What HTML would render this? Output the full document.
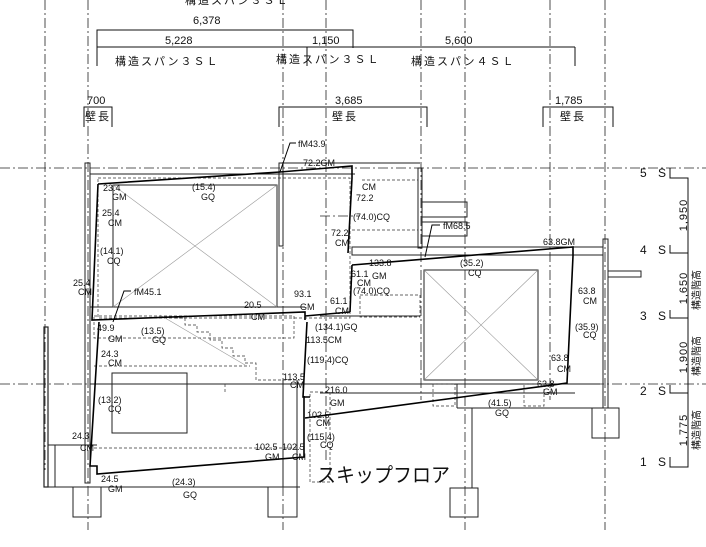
<!DOCTYPE html>
<html><head><meta charset="utf-8"><style>
html,body{margin:0;padding:0;background:#fff;}
svg{display:block;}
text{font-family:"Liberation Sans","Noto Sans CJK JP",sans-serif;fill:#111;}
.s{font-size:9px;}
.m{font-size:11px;letter-spacing:2px;}
.lv{font-size:12px;letter-spacing:4px;}
</style></head><body>
<svg width="706" height="547" viewBox="0 0 706 547" xmlns="http://www.w3.org/2000/svg">
<g stroke="#222" stroke-width="0.8" stroke-dasharray="10,3,2,3" fill="none">
<line x1="45" y1="0" x2="45" y2="470"/>
<line x1="88" y1="0" x2="88" y2="530"/>
<line x1="283" y1="0" x2="283" y2="530"/>
<line x1="326" y1="0" x2="326" y2="460"/>
<line x1="421" y1="0" x2="421" y2="400"/>
<line x1="465" y1="0" x2="465" y2="530"/>
<line x1="550" y1="0" x2="550" y2="400"/>
<line x1="605" y1="0" x2="605" y2="530"/>
<line x1="0" y1="168" x2="706" y2="168"/>
<line x1="0" y1="384" x2="706" y2="384"/>
<line x1="320" y1="216" x2="360" y2="216"/>
</g>
<text x="185" y="4" class="m">構造スパン３ＳＬ</text>
<g stroke="#111" stroke-width="1" fill="none">
<polyline points="97,48 97,30 353,30 353,48"/>
<line x1="97" y1="47" x2="575" y2="47"/>
<line x1="97" y1="47" x2="97" y2="66"/>
<line x1="307" y1="47" x2="307" y2="66"/>
<line x1="575" y1="47" x2="575" y2="66"/>
<polyline points="84,127 84,107 112,107 112,127"/>
<polyline points="279,127 279,107 427,107 427,127"/>
<polyline points="543,127 543,107 613,107 613,127"/>
</g>
<text x="193" y="24" style="font-size:11px">6,378</text>
<text x="165" y="44" style="font-size:11px">5,228</text>
<text x="312" y="44" style="font-size:11px">1,150</text>
<text x="445" y="44" style="font-size:11px">5,600</text>
<text x="115" y="65" class="m">構造スパン３ＳＬ</text>
<text x="276" y="63" class="m">構造スパン３ＳＬ</text>
<text x="411" y="65" class="m">構造スパン４ＳＬ</text>
<text x="87" y="104" style="font-size:11px">700</text>
<text x="85" y="120" style="font-size:11px;letter-spacing:2px">壁長</text>
<text x="335" y="104" style="font-size:11px">3,685</text>
<text x="332" y="120" style="font-size:11px;letter-spacing:2px">壁長</text>
<text x="555" y="104" style="font-size:11px">1,785</text>
<text x="560" y="120" style="font-size:11px;letter-spacing:2px">壁長</text>
<g stroke="#111" stroke-width="1" fill="none">
<polyline points="670,168 670,178 688,178 688,467 670,467 670,457"/>
<polyline points="670,245 670,253 688,253"/>
<polyline points="670,310 670,318 688,318"/>
<polyline points="670,385 670,393 688,393"/>
</g>
<text x="640" y="177" class="lv">5 S</text>
<text x="640" y="254" class="lv">4 S</text>
<text x="640" y="320" class="lv">3 S</text>
<text x="640" y="395" class="lv">2 S</text>
<text x="640" y="466" class="lv">1 S</text>
<g style="font-size:11px">
<text transform="translate(687,215) rotate(-90)" text-anchor="middle" letter-spacing="1">1,950</text>
<text transform="translate(687,288) rotate(-90)" text-anchor="middle" letter-spacing="1">1,650</text>
<text transform="translate(700,290) rotate(-90)" text-anchor="middle" style="font-size:10px">構造階高</text>
<text transform="translate(687,357) rotate(-90)" text-anchor="middle" letter-spacing="1">1,900</text>
<text transform="translate(700,356) rotate(-90)" text-anchor="middle" style="font-size:10px">構造階高</text>
<text transform="translate(687,430) rotate(-90)" text-anchor="middle" letter-spacing="1">1,775</text>
<text transform="translate(700,430) rotate(-90)" text-anchor="middle" style="font-size:10px">構造階高</text>
</g>
<g stroke="#222" stroke-width="1" fill="none">
<rect x="85" y="163" width="5" height="320"/>
<line x1="90" y1="174" x2="355" y2="174"/>
<rect x="279" y="163" width="4" height="83"/>
<line x1="283" y1="163" x2="420" y2="163"/>
<rect x="418" y="168" width="4" height="80"/>
<rect x="422" y="202" width="45" height="15"/>
<rect x="422" y="222" width="45" height="14"/>
<rect x="113" y="185" width="164" height="122"/>
<line x1="90" y1="307" x2="305" y2="307"/>
<rect x="352" y="247" width="251" height="8"/>
<rect x="603" y="239" width="5" height="169"/>
<rect x="608" y="271" width="33" height="6"/>
<rect x="424" y="270" width="114" height="110"/>
<line x1="320" y1="316" x2="420" y2="316"/>
<line x1="90" y1="384" x2="600" y2="384"/>
<line x1="320" y1="393" x2="575" y2="393"/>
<line x1="457" y1="408" x2="592" y2="408"/>
<line x1="457" y1="384" x2="457" y2="408"/>
<line x1="472" y1="408" x2="472" y2="488"/>
<rect x="592" y="408" width="27" height="30"/>
<rect x="450" y="488" width="28" height="29"/>
<rect x="73" y="487" width="28" height="30"/>
<rect x="268" y="487" width="29" height="30"/>
<line x1="45" y1="487" x2="300" y2="487"/>
<rect x="44" y="327" width="4" height="160" stroke-width="1.2"/>
<line x1="48" y1="445" x2="97" y2="445"/>
<rect x="112" y="373" width="75" height="60"/>
<line x1="55" y1="445" x2="55" y2="487"/>
<line x1="283" y1="380" x2="283" y2="487"/>
<line x1="297" y1="380" x2="297" y2="487"/>
</g>
<g stroke="#333" stroke-width="0.7" stroke-dasharray="3,2" fill="none">
<rect x="98" y="178" width="252" height="140"/>
<rect x="94" y="316" width="200" height="22"/>
<line x1="94" y1="366" x2="250" y2="366"/>
<line x1="94" y1="448" x2="300" y2="448"/>
<polyline points="175,318 185,318 185,325 197,325 197,332 210,332 210,340 222,340 222,348 233,348 233,356 245,356 245,363 256,363 256,380 300,380"/>
<line x1="225" y1="384" x2="225" y2="392"/>
<rect x="310" y="392" width="20" height="90"/>
<rect x="360" y="295" width="60" height="22"/>
<line x1="362" y1="180" x2="418" y2="180"/>
<line x1="352" y1="230" x2="418" y2="230"/>
<rect x="433" y="384" width="22" height="22"/>
<rect x="524" y="384" width="20" height="22"/>
</g>
<g stroke="#999" stroke-width="0.6">
<line x1="113" y1="185" x2="277" y2="307"/>
<line x1="277" y1="185" x2="113" y2="307"/>
<line x1="424" y1="270" x2="538" y2="380"/>
<line x1="538" y1="270" x2="424" y2="380"/>
<line x1="160" y1="315" x2="245" y2="365"/>
</g>
<g stroke="#000" stroke-width="1.6" fill="none">
<polyline points="98,184 280,172 352,166 352,178 348,253"/>
<polyline points="98,184 92,320 305,312 305,320"/>
<polyline points="352,265 573,247 573,256 567,383 305,418"/>
<line x1="352" y1="265" x2="350" y2="312"/>
<polyline points="99,322 90,466 97,466 97,474 304,457 304,396"/>
<polyline points="307,322 303,397 310,397"/>
<line x1="350" y1="312" x2="305" y2="316"/>
</g>
<g stroke="#000" stroke-width="1" fill="none">
<polyline points="296,143 290,143 280,172"/>
<polyline points="440,225 432,225 425,257"/>
<polyline points="131,291 124,291 113,322"/>
</g>
<g class="s">
<text x="298" y="147">fM43.9</text>
<text x="303" y="166">72.2GM</text>
<text x="103" y="191">23.4</text><text x="112" y="200">GM</text>
<text x="192" y="190">(15.4)</text><text x="201" y="200">GQ</text>
<text x="362" y="190">CM</text><text x="356" y="201">72.2</text>
<text x="102" y="216">25.4</text><text x="108" y="226">CM</text>
<text x="353" y="220">(74.0)CQ</text>
<text x="443" y="229">fM68.5</text>
<text x="331" y="236">72.2</text><text x="335" y="246">CM</text>
<text x="543" y="245">63.8GM</text>
<text x="100" y="254">(14.1)</text><text x="107" y="264">CQ</text>
<text x="460" y="266">(35.2)</text><text x="468" y="276">CQ</text>
<text x="369" y="266">133.8</text>
<text x="351" y="277">61.1</text><text x="372" y="279">GM</text><text x="357" y="286">CM</text>
<text x="353" y="294">(74.0)CQ</text>
<text x="73" y="286">25.4</text><text x="78" y="295">CM</text>
<text x="134" y="295">fM45.1</text>
<text x="578" y="294">63.8</text><text x="583" y="304">CM</text>
<text x="294" y="297">93.1</text><text x="300" y="310">GM</text>
<text x="330" y="304">61.1</text><text x="335" y="314">CM</text>
<text x="244" y="308">20.5</text><text x="251" y="320">CM</text>
<text x="575" y="330">(35.9)</text><text x="583" y="338">CQ</text>
<text x="97" y="331">49.9</text><text x="108" y="342">GM</text>
<text x="141" y="334">(13.5)</text><text x="152" y="343">GQ</text>
<text x="315" y="330">(134.1)GQ</text>
<text x="306" y="343">113.5CM</text>
<text x="101" y="357">24.3</text><text x="108" y="366">CM</text>
<text x="307" y="363">(119.4)CQ</text>
<text x="551" y="361">63.8</text><text x="557" y="372">CM</text>
<text x="283" y="380">113.5</text><text x="290" y="388">CM</text>
<text x="325" y="393">216.0</text>
<text x="537" y="387">63.8</text><text x="543" y="395">GM</text>
<text x="98" y="403">(13.2)</text><text x="108" y="412">CQ</text>
<text x="330" y="406">GM</text>
<text x="488" y="406">(41.5)</text><text x="495" y="416">GQ</text>
<text x="307" y="418">102.5</text><text x="316" y="426">CM</text>
<text x="307" y="440">(115.4)</text><text x="320" y="448">CQ</text>
<text x="72" y="439">24.3</text><text x="80" y="451">CM</text>
<text x="255" y="450">102.5</text><text x="265" y="460">GM</text>
<text x="282" y="450">102.5</text><text x="292" y="460">CM</text>
<text x="101" y="482">24.5</text><text x="108" y="492">GM</text>
<text x="172" y="485">(24.3)</text><text x="183" y="498">GQ</text>
</g>
<text x="317" y="482" style="font-size:20px" textLength="133" lengthAdjust="spacingAndGlyphs">スキップフロア</text>
</svg>
</body></html>
